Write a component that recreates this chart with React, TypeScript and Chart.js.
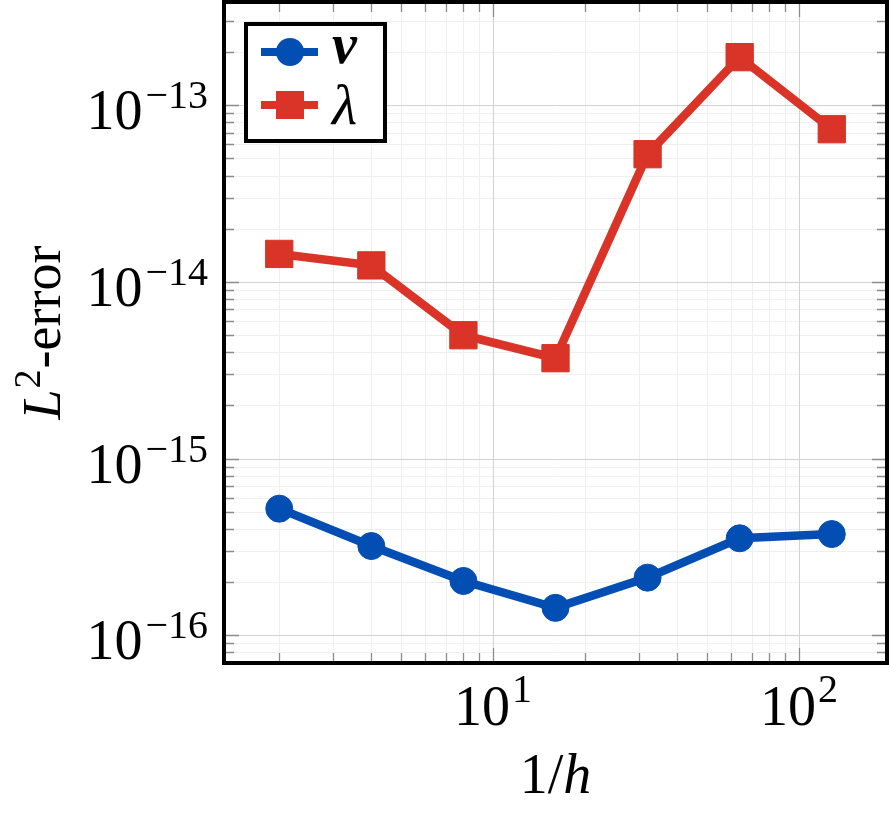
import React, { useEffect, useRef } from "react";
import { Chart, registerables } from "chart.js";

Chart.register(...registerables);

// ---- data ----
const meshInverse = [2, 4, 8, 16, 32, 64, 128];
const errorV = [5.21e-16, 3.2e-16, 2.03e-16, 1.43e-16, 2.12e-16, 3.54e-16, 3.74e-16];
const errorLambda = [1.44e-14, 1.24e-14, 4.99e-15, 3.7e-15, 5.28e-14, 1.87e-13, 7.31e-14];
const seriesNames = ["v", "λ"];

// ---- axes ----
const xLimits = [1.3195, 194.0];
const yLimits = [6.97e-17, 3.837e-13];
const xTickValues = [10, 100];
const xTickExponents = ["1", "2"];
const yTickValues = [1e-16, 1e-15, 1e-14, 1e-13];
const yTickExponents = ["−16", "−15", "−14", "−13"];

const BLUE = "#024EB3";
const RED = "#D93427";
const SERIF = "'Liberation Serif', Tinos, 'Times New Roman', Times, 'Nimbus Roman', serif";

function minorValues(min: number, max: number): number[] {
  const out: number[] = [];
  const e0 = Math.floor(Math.log10(min)) - 1;
  const e1 = Math.ceil(Math.log10(max)) + 1;
  for (let e = e0; e <= e1; e++) {
    for (let k = 2; k <= 9; k++) {
      const v = k * Math.pow(10, e);
      if (v > min && v < max) out.push(v);
    }
  }
  return out;
}

function majorValues(min: number, max: number): number[] {
  const out: number[] = [];
  const e0 = Math.floor(Math.log10(min)) - 1;
  const e1 = Math.ceil(Math.log10(max)) + 1;
  for (let e = e0; e <= e1; e++) {
    const v = Math.pow(10, e);
    if (v > min && v < max) out.push(v);
  }
  return out;
}

const decorPlugin = {
  id: "decor",
  beforeDatasetsDraw(chart: any) {
    const { ctx, chartArea: a, scales } = chart;
    const xs = scales.x;
    const ys = scales.y;
    ctx.save();
    ctx.lineWidth = 1;
    const vline = (v: number, color: string) => {
      const px = Math.round(xs.getPixelForValue(v)) + 0.5;
      ctx.strokeStyle = color;
      ctx.beginPath();
      ctx.moveTo(px, a.top);
      ctx.lineTo(px, a.bottom);
      ctx.stroke();
    };
    const hline = (v: number, color: string) => {
      const py = Math.round(ys.getPixelForValue(v)) + 0.5;
      ctx.strokeStyle = color;
      ctx.beginPath();
      ctx.moveTo(a.left, py);
      ctx.lineTo(a.right, py);
      ctx.stroke();
    };
    minorValues(xs.min, xs.max).forEach((v) => vline(v, "#efefef"));
    minorValues(ys.min, ys.max).forEach((v) => hline(v, "#efefef"));
    majorValues(xs.min, xs.max).forEach((v) => vline(v, "#d2d2d2"));
    majorValues(ys.min, ys.max).forEach((v) => hline(v, "#d2d2d2"));
    ctx.restore();
  },
  afterDatasetsDraw(chart: any) {
    const { ctx, chartArea: a, scales } = chart;
    const xs = scales.x;
    const ys = scales.y;
    ctx.save();

    // ticks (inside, all four sides)
    ctx.strokeStyle = "#8c8c8c";
    ctx.lineWidth = 1.3;
    const minorLen = 10;
    const majorLen = 15;
    const xt = (v: number, len: number) => {
      const px = Math.round(xs.getPixelForValue(v)) + 0.5;
      ctx.beginPath();
      ctx.moveTo(px, a.bottom);
      ctx.lineTo(px, a.bottom - len);
      ctx.moveTo(px, a.top);
      ctx.lineTo(px, a.top + len);
      ctx.stroke();
    };
    const yt = (v: number, len: number) => {
      const py = Math.round(ys.getPixelForValue(v)) + 0.5;
      ctx.beginPath();
      ctx.moveTo(a.left, py);
      ctx.lineTo(a.left + len, py);
      ctx.moveTo(a.right, py);
      ctx.lineTo(a.right - len, py);
      ctx.stroke();
    };
    minorValues(xs.min, xs.max).forEach((v) => xt(v, minorLen));
    minorValues(ys.min, ys.max).forEach((v) => yt(v, minorLen));
    majorValues(xs.min, xs.max).forEach((v) => xt(v, majorLen));
    majorValues(ys.min, ys.max).forEach((v) => yt(v, majorLen));

    // frame
    ctx.strokeStyle = "#000";
    ctx.lineWidth = 4;
    ctx.strokeRect(a.left, a.top, a.right - a.left, a.bottom - a.top);

    // tick labels
    const mainFont = `56px ${SERIF}`;
    const supFont = `40px ${SERIF}`;
    ctx.fillStyle = "#000";
    ctx.textBaseline = "alphabetic";
    ctx.textAlign = "left";

    yTickValues.forEach((v, i) => {
      const py = ys.getPixelForValue(v);
      ctx.font = supFont;
      const ws = ctx.measureText(yTickExponents[i]).width;
      ctx.font = mainFont;
      const wm = ctx.measureText("10").width;
      const right = a.left - 16;
      const x0 = right - ws - wm - 3;
      ctx.fillText("10", x0, py + 24);
      ctx.font = supFont;
      ctx.fillText(yTickExponents[i], x0 + wm + 3, py + 3);
    });

    xTickValues.forEach((v, i) => {
      const px = xs.getPixelForValue(v);
      ctx.font = supFont;
      const ws = ctx.measureText(xTickExponents[i]).width;
      ctx.font = mainFont;
      const wm = ctx.measureText("10").width;
      const x0 = px - (wm + ws + 2) / 2;
      ctx.fillText("10", x0, a.bottom + 62);
      ctx.font = supFont;
      ctx.fillText(xTickExponents[i], x0 + wm + 2, a.bottom + 39);
    });

    // x axis title: 1/h
    {
      const f1 = `56px ${SERIF}`;
      const f2 = `italic 56px ${SERIF}`;
      ctx.font = f1;
      const w1 = ctx.measureText("1/").width;
      ctx.font = f2;
      const w2 = ctx.measureText("h").width;
      const cx = (a.left + a.right) / 2;
      const x0 = cx - (w1 + w2) / 2;
      const base = a.bottom + 130;
      ctx.font = f1;
      ctx.fillText("1/", x0, base);
      ctx.font = f2;
      ctx.fillText("h", x0 + w1, base);
    }

    // y axis title: L^2-error
    {
      const fL = `italic 54px ${SERIF}`;
      const fS = `38px ${SERIF}`;
      const fR = `54px ${SERIF}`;
      ctx.font = fL;
      const wL = ctx.measureText("L").width;
      ctx.font = fS;
      const wS = ctx.measureText("2").width;
      ctx.font = fR;
      const wR = ctx.measureText("-error").width;
      const total = wL + 1 + wS + 1 + wR;
      ctx.save();
      ctx.translate(60, (a.top + a.bottom) / 2);
      ctx.rotate(-Math.PI / 2);
      let x = -total / 2;
      ctx.font = fL;
      ctx.fillText("L", x, 0);
      x += wL + 1;
      ctx.font = fS;
      ctx.fillText("2", x, -20);
      x += wS + 1;
      ctx.font = fR;
      ctx.fillText("-error", x, 0);
      ctx.restore();
    }

    // legend
    {
      const bx = a.left + 22;
      const by = a.top + 22;
      const bw = 139;
      const bh = 117;
      ctx.fillStyle = "#fff";
      ctx.fillRect(bx, by, bw, bh);
      ctx.strokeStyle = "#000";
      ctx.lineWidth = 4;
      ctx.strokeRect(bx, by, bw, bh);

      const rows = [
        { y: a.top + 50, color: BLUE, marker: "circle", text: seriesNames[0], font: `bold italic 56px ${SERIF}`, base: 11 },
        { y: a.top + 103, color: RED, marker: "rect", text: seriesNames[1], font: `italic 58px ${SERIF}`, base: 19 },
      ];
      rows.forEach((r) => {
        ctx.strokeStyle = r.color;
        ctx.lineWidth = 8;
        ctx.beginPath();
        ctx.moveTo(a.left + 37, r.y);
        ctx.lineTo(a.left + 94, r.y);
        ctx.stroke();
        ctx.fillStyle = r.color;
        const mx = a.left + 66;
        if (r.marker === "circle") {
          ctx.beginPath();
          ctx.arc(mx, r.y, 14, 0, Math.PI * 2);
          ctx.fill();
        } else {
          ctx.fillRect(mx - 14, r.y - 14, 28, 28);
        }
        ctx.fillStyle = "#000";
        ctx.font = r.font;
        ctx.fillText(r.text, a.left + 108, r.y + r.base);
      });
    }

    ctx.restore();
  },
};

export default function App() {
  const canvasRef = useRef<HTMLCanvasElement | null>(null);

  useEffect(() => {
    const canvas = canvasRef.current;
    if (!canvas) return;
    const chart = new Chart(canvas, {
      type: "line",
      data: {
        datasets: [
          {
            label: seriesNames[0],
            data: meshInverse.map((x, i) => ({ x, y: errorV[i] })),
            borderColor: BLUE,
            backgroundColor: BLUE,
            borderWidth: 8.5,
            pointStyle: "circle",
            pointRadius: 13.5,
            pointBorderWidth: 1,
            pointBackgroundColor: BLUE,
            pointBorderColor: BLUE,
            tension: 0,
          },
          {
            label: seriesNames[1],
            data: meshInverse.map((x, i) => ({ x, y: errorLambda[i] })),
            borderColor: RED,
            backgroundColor: RED,
            borderWidth: 8.5,
            pointStyle: "rect",
            pointRadius: 19.3,
            pointBorderWidth: 1,
            pointBackgroundColor: RED,
            pointBorderColor: RED,
            tension: 0,
          },
        ],
      },
      options: {
        animation: false,
        responsive: false,
        maintainAspectRatio: false,
        devicePixelRatio: 1,
        layout: { autoPadding: false, padding: { left: 224, top: 2, right: 2, bottom: 156 } },
        scales: {
          x: { type: "logarithmic", min: xLimits[0], max: xLimits[1], display: false },
          y: { type: "logarithmic", min: yLimits[0], max: yLimits[1], display: false },
        },
        plugins: {
          legend: { display: false },
          tooltip: { enabled: false },
        },
      },
      plugins: [decorPlugin],
    });
    if ((document as any).fonts && (document as any).fonts.load) {
      Promise.all([
        (document as any).fonts.load(`56px 'Liberation Serif'`),
        (document as any).fonts.load(`italic 56px 'Liberation Serif'`),
        (document as any).fonts.load(`bold italic 56px 'Liberation Serif'`),
      ])
        .then(() => chart.draw())
        .catch(() => {});
    }
    return () => chart.destroy();
  }, []);

  return (
    <div style={{ position: "absolute", left: 0, top: 0, width: 889, height: 819, background: "#fff" }}>
      <canvas ref={canvasRef} width={889} height={819} style={{ display: "block" }} />
    </div>
  );
}
